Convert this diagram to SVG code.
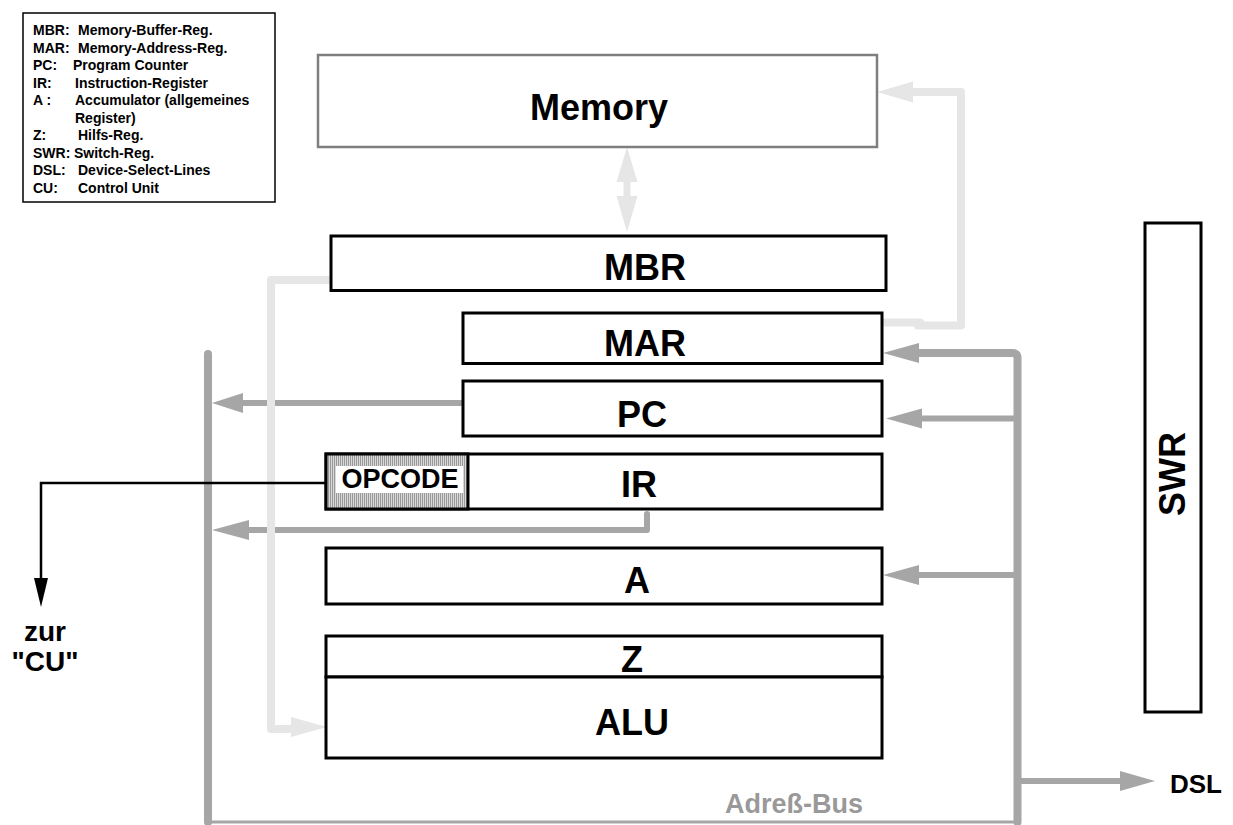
<svg xmlns="http://www.w3.org/2000/svg" width="1233" height="825" viewBox="0 0 1233 825">
<style>
text{font-family:"Liberation Sans",Arial,Helvetica,sans-serif;font-weight:bold;fill:#000}
.reg{fill:#fff;stroke:#000;stroke-width:3}
.big{font-size:36px;text-anchor:middle}
.leg{font-size:14px}
.bus{fill:none;stroke:#a6a6a6;stroke-width:8;stroke-linecap:round;stroke-linejoin:round}
.arr{fill:none;stroke:#a6a6a6;stroke-width:6;stroke-linecap:round;stroke-linejoin:round}
.bh{fill:#a6a6a6}
.lt{fill:none;stroke:#e6e6e6;stroke-width:8;stroke-linecap:round;stroke-linejoin:round}
.lh{fill:#e6e6e6}
</style>
<defs>
<pattern id="hatch" width="2" height="4" patternUnits="userSpaceOnUse">
<rect width="2" height="4" fill="#d8d8d8"/>
<rect width="1" height="4" fill="#9a9a9a"/>
</pattern>
</defs>
<rect width="1233" height="825" fill="#fff"/>

<g id="legend">
<rect x="23" y="13" width="252" height="189" fill="#fff" stroke="#000" stroke-width="1.5"/>
<g class="leg">
<text class="leg" x="33" y="35">MBR:</text><text class="leg" x="78" y="35">Memory-Buffer-Reg.</text>
<text class="leg" x="33" y="52.5">MAR:</text><text class="leg" x="78" y="52.5">Memory-Address-Reg.</text>
<text class="leg" x="33" y="70">PC:</text><text class="leg" x="73" y="70">Program Counter</text>
<text class="leg" x="33" y="87.5">IR:</text><text class="leg" x="75" y="87.5">Instruction-Register</text>
<text class="leg" x="33" y="105">A :</text><text class="leg" x="75" y="105">Accumulator (allgemeines</text>
<text class="leg" x="75" y="122.5">Register)</text>
<text class="leg" x="33" y="140">Z:</text><text class="leg" x="78" y="140">Hilfs-Reg.</text>
<text class="leg" x="33" y="157.5">SWR:</text><text class="leg" x="74" y="157.5">Switch-Reg.</text>
<text class="leg" x="33" y="175">DSL:</text><text class="leg" x="78" y="175">Device-Select-Lines</text>
<text class="leg" x="33" y="192.5">CU:</text><text class="leg" x="78" y="192.5">Control Unit</text>
</g>
</g>

<g id="connectors">
<!-- address bus -->
<path class="bus" d="M208 354 V822"/>
<path d="M208 822 H1017" fill="none" stroke="#a6a6a6" stroke-width="3"/>
<path class="bus" d="M1017.5 822 V358 Q1017.5 353 1012 353 H918"/>
<polygon class="bh" points="883,353 919,343 919,363"/>
<path class="arr" d="M1017 418.5 H920"/>
<polygon class="bh" points="886,418.5 922,408.5 922,428.5"/>
<path class="arr" d="M1017 575 H918"/>
<polygon class="bh" points="883,575 919,565 919,585"/>
<path class="arr" d="M1017 781 H1122"/>
<polygon class="bh" points="1155,781 1120,771 1120,791"/>
<path class="arr" d="M463 403 H240"/>
<polygon class="bh" points="212,403 243,393 243,413"/>
<path class="arr" d="M647 514 V530 H246"/>
<polygon class="bh" points="212,530 249,520 249,540"/>
<!-- light data paths -->
<path class="lt" d="M333 280 H271 V729 H293"/>
<polygon class="lh" points="327,727 291,717 291,737"/>
<path class="lt" d="M884 322.5 H920"/>
<path class="lt" d="M918 325.5 H961 V92 H912"/>
<polygon class="lh" points="877,92 913,81.5 913,102.5"/>
<path d="M627 180 V198" stroke="#e6e6e6" stroke-width="7" fill="none"/>
<polygon class="lh" points="627,147 616.5,182 637.5,182"/>
<polygon class="lh" points="627,232 616.5,196 637.5,196"/>
<!-- opcode to CU -->
<path d="M326 483 H41 V582" fill="none" stroke="#000" stroke-width="2.5"/>
<polygon points="41,607 34,578 48,578" fill="#000"/>
</g>

<g id="memory">
<rect x="318" y="55" width="559" height="92" fill="#fff" stroke="#7f7f7f" stroke-width="2.5"/>
<text class="big" x="599" y="120" font-size="37">Memory</text>
</g>
<g id="mbr">
<rect class="reg" x="331" y="236" width="555" height="54.5"/>
<text class="big" x="645" y="280">MBR</text>
</g>
<g id="mar">
<rect class="reg" x="463" y="313" width="419" height="50.5"/>
<text class="big" x="645" y="356">MAR</text>
</g>
<g id="pc">
<rect class="reg" x="463" y="381" width="419" height="55"/>
<text class="big" x="642" y="427">PC</text>
</g>
<g id="ir">
<rect class="reg" x="326" y="454" width="556" height="55"/>
<text class="big" x="639" y="497">IR</text>
</g>
<g id="opcode">
<rect x="326" y="454" width="142" height="55" fill="url(#hatch)" stroke="#000" stroke-width="3"/>
<rect x="336" y="466" width="127" height="27" fill="#fff"/>
<text x="400" y="488" font-size="27" text-anchor="middle">OPCODE</text>
</g>
<g id="a">
<rect class="reg" x="326" y="548" width="556" height="56"/>
<text class="big" x="637" y="593">A</text>
</g>
<g id="z">
<rect class="reg" x="326" y="636" width="556" height="41"/>
<text class="big" x="632" y="672">Z</text>
</g>
<g id="alu">
<rect class="reg" x="326" y="677" width="556" height="81"/>
<text class="big" x="632" y="735">ALU</text>
</g>
<g id="swr">
<rect class="reg" x="1145" y="223" width="56" height="489"/>
<text class="big" transform="translate(1185 474) rotate(-90)" x="0" y="0">SWR</text>
</g>
<g id="labels">
<text x="794" y="813" font-size="27" text-anchor="middle" style="fill:#999">Adreß-Bus</text>
<text x="1170" y="793" font-size="26">DSL</text>
<text x="45" y="641" font-size="28" text-anchor="middle">zur</text>
<text x="45" y="671" font-size="28" text-anchor="middle">"CU"</text>
</g>
</svg>
